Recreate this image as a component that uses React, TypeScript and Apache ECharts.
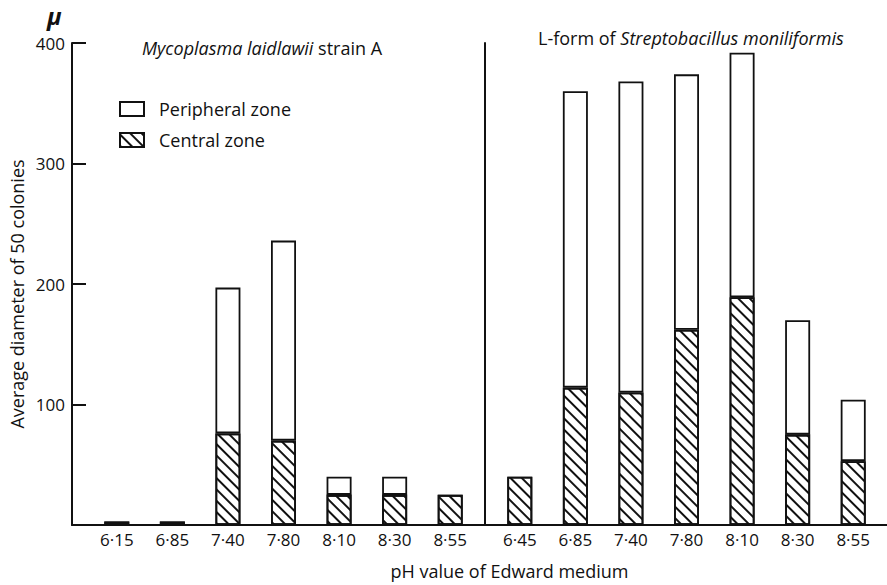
import React, { useEffect, useRef } from "react";
import * as echarts from "echarts";

// pH values of the medium for each organism
const mycoplasmaPH = ["6·15", "6·85", "7·40", "7·80", "8·10", "8·30", "8·55"];
const lformPH = ["6·45", "6·85", "7·40", "7·80", "8·10", "8·30", "8·55"];

// Average colony diameters (μ): central zone and whole colony
const mycoplasmaCentral = [3, 3, 76, 70, 25, 25, 25];
const mycoplasmaTotal = [3, 3, 197, 236, 40, 40, 25];
const lformCentral = [40, 114, 110, 162, 189, 75, 53];
const lformTotal = [40, 360, 368, 374, 392, 170, 104];

const yTicks = [0, 100, 200, 300, 400];

const FONT = "'Open Sans', Lato, 'DejaVu Sans', sans-serif";
const INK = "#111";
const FS = 17;
const FS_TEXT = 18;

// Peripheral ring = whole colony minus central zone
const peripheral = (total: number[], central: number[]) =>
  total.map((t, i) => (t - central[i] > 0 ? t - central[i] : null));

const hatch = {
  symbol: "rect",
  symbolSize: 1,
  dashArrayX: [1, 0],
  dashArrayY: [2, 6],
  rotation: Math.PI / 4,
  color: INK,
  backgroundColor: "#fff",
};

export default function App() {
  const ref = useRef<HTMLDivElement>(null);

  useEffect(() => {
    document.body.style.margin = "0";
    if (!ref.current) return;
    const chart = echarts.init(ref.current, undefined, { renderer: "svg" });

    const top = 43;
    const height = 482;
    const band = 389;

    const barBase = {
      type: "bar" as const,
      barWidth: 25,
    };
    const centralStyle = {
      color: "#fff",
      borderColor: INK,
      borderWidth: 1.8,
      decal: hatch,
    };
    const periphStyle = {
      color: "#fff",
      borderColor: INK,
      borderWidth: 1.8,
    };

    const catAxis = (gridIndex: number, data: string[]) => ({
      type: "category" as const,
      gridIndex,
      data,
      axisLine: { show: false },
      axisTick: { show: false },
      axisLabel: { color: INK, fontSize: FS, fontFamily: FONT, margin: 6 },
    });

    const titleStyle = {
      fontSize: FS_TEXT,
      fontWeight: "normal" as const,
      color: INK,
      fontFamily: FONT,
      rich: { i: { fontSize: FS_TEXT, fontStyle: "italic", color: INK, fontFamily: FONT } },
    };

    const option = {
      animation: false,
      backgroundColor: "#fff",
      title: [
        {
          text: "μ",
          left: 47,
          top: 6,
          padding: 0,
          textStyle: {
            fontSize: 24,
            lineHeight: 18,
            fontWeight: "bold",
            fontStyle: "italic",
            color: INK,
            fontFamily: FONT,
          },
        },
        {
          text: "{i|Mycoplasma laidlawii} strain A",
          left: 142,
          top: 39,
          padding: 0,
          textStyle: titleStyle,
        },
        {
          text: "L-form of {i|Streptobacillus moniliformis}",
          left: 538,
          top: 29,
          padding: 0,
          textStyle: titleStyle,
        },
      ],
      legend: {
        orient: "vertical",
        left: 119,
        top: 100,
        padding: 0,
        icon: "rect",
        itemWidth: 24,
        itemHeight: 14,
        itemGap: 13,
        selectedMode: false,
        data: ["Peripheral zone", "Central zone"],
        textStyle: { color: INK, fontSize: FS_TEXT, fontFamily: FONT, padding: [0, 0, 0, 10] },
      },
      grid: [
        { left: 89, width: band, top, height },
        { left: 492, width: band, top, height },
        { left: 72, right: 0, top, height },
      ],
      xAxis: [
        catAxis(0, mycoplasmaPH),
        catAxis(1, lformPH),
        {
          type: "value",
          gridIndex: 2,
          min: 0,
          max: 1,
          position: "bottom",
          axisLine: { show: true, onZero: false, lineStyle: { color: INK, width: 2 } },
          axisTick: { show: false },
          axisLabel: { show: false },
          splitLine: { show: false },
          name: "pH value of Edward medium",
          nameLocation: "middle",
          nameGap: 37,
          nameTextStyle: { color: INK, fontSize: FS_TEXT, fontFamily: FONT, padding: [0, 0, 0, 60] },
        },
      ],
      yAxis: [
        {
          type: "value",
          gridIndex: 0,
          min: yTicks[0],
          max: yTicks[yTicks.length - 1],
          interval: 100,
          offset: 17,
          axisLine: { show: true, lineStyle: { color: INK, width: 2 } },
          axisTick: { show: true, inside: true, length: 14, lineStyle: { color: INK, width: 2 } },
          axisLabel: {
            color: INK,
            fontSize: FS,
            fontFamily: FONT,
            margin: 7,
            formatter: (v: number) => (v === 0 ? "" : String(v)),
          },
          splitLine: { show: false },
          name: "Average diameter of 50 colonies",
          nameLocation: "middle",
          nameGap: 46,
          nameTextStyle: { color: INK, fontSize: FS_TEXT, fontFamily: FONT, padding: [0, 20, 0, 0] },
        },
        {
          type: "value",
          gridIndex: 1,
          min: yTicks[0],
          max: yTicks[yTicks.length - 1],
          interval: 100,
          offset: 7,
          axisLine: { show: true, lineStyle: { color: INK, width: 2 } },
          axisTick: { show: false },
          axisLabel: { show: false },
          splitLine: { show: false },
        },
        {
          type: "value",
          gridIndex: 2,
          min: 0,
          max: 1,
          show: false,
        },
      ],
      series: [
        {
          ...barBase,
          name: "Peripheral zone",
          xAxisIndex: 0,
          yAxisIndex: 0,
          stack: "myco",
          itemStyle: periphStyle,
          data: [],
        },
        {
          ...barBase,
          name: "Central zone",
          xAxisIndex: 0,
          yAxisIndex: 0,
          stack: "myco",
          itemStyle: centralStyle,
          data: mycoplasmaCentral,
        },
        {
          ...barBase,
          name: "Peripheral zone",
          xAxisIndex: 0,
          yAxisIndex: 0,
          stack: "myco",
          itemStyle: periphStyle,
          data: peripheral(mycoplasmaTotal, mycoplasmaCentral),
        },
        {
          ...barBase,
          name: "Central zone",
          xAxisIndex: 1,
          yAxisIndex: 1,
          stack: "lform",
          itemStyle: centralStyle,
          data: lformCentral,
        },
        {
          ...barBase,
          name: "Peripheral zone",
          xAxisIndex: 1,
          yAxisIndex: 1,
          stack: "lform",
          itemStyle: periphStyle,
          data: peripheral(lformTotal, lformCentral),
        },
      ],
    };

    chart.setOption(option as any);
    return () => chart.dispose();
  }, []);

  return <div ref={ref} style={{ width: 887, height: 585 }} />;
}
